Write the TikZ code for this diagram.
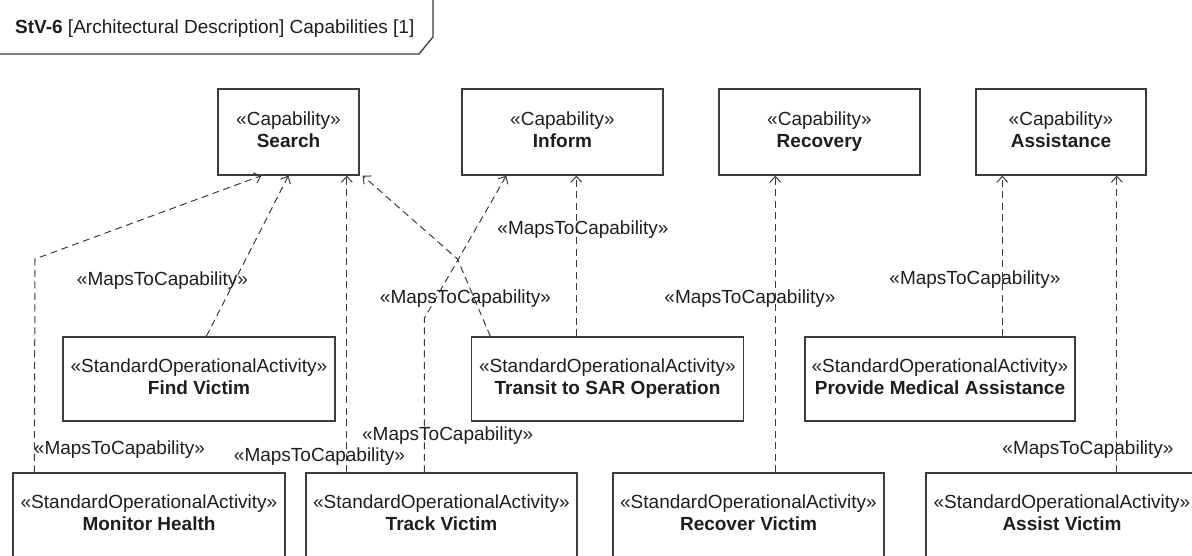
\documentclass[tikz,border=0pt]{standalone}
\usepackage{fontspec}
\setmainfont{Liberation Sans}
\usetikzlibrary{arrows.meta,positioning}
\definecolor{linegray}{RGB}{60,60,60}
\definecolor{textgray}{RGB}{30,30,30}
\tikzset{
  elem/.style={draw=linegray,line width=1.3pt,align=center,inner sep=0pt,
               font=\fontsize{19}{22}\selectfont,text=textgray},
  capability/.style={elem,minimum height=86pt},
  activity/.style={elem,minimum width=272pt,minimum height=84pt},
  maps/.style={draw=linegray,line width=1pt,dash pattern=on 7pt off 4.5pt,
               -{Straight Barb[length=6pt,width=11pt]}},
  maplabel/.style={font=\fontsize{19}{22}\selectfont,text=textgray,inner sep=0pt},
  frameline/.style={draw=linegray,line width=1.3pt},
}

\begin{document}
\begin{tikzpicture}[x=1pt,y=-1pt]
  \path[use as bounding box] (0,0) rectangle (1192,556);
  \node[anchor=base west,font=\fontsize{19}{22}\selectfont,text=textgray,inner sep=0pt] (title) at (15,34)
    {\textbf{StV-6} [Architectural Description] Capabilities [1]};
  \draw[frameline] (0,54) -- (419,54) -- (433,37) -- (433,0);

  \node[capability,minimum width=141pt] (search) at (288.5,132) {«Capability»\\\textbf{Search}\vphantom{y}};
  \node[capability,minimum width=201pt] (inform) at (562.5,132) {«Capability»\\\textbf{Inform}\vphantom{y}};
  \node[capability,minimum width=201pt] (recovery) at (819.5,132) {«Capability»\\\textbf{Recovery}\vphantom{y}};
  \node[capability,minimum width=170pt] (assistance) at (1061,132) {«Capability»\\\textbf{Assistance}\vphantom{y}};

  \node[activity] (findvictim) at (199,379) {«StandardOperationalActivity»\\\textbf{Find Victim}\vphantom{y}};
  \node[activity] (transit) at (607.5,379) {«StandardOperationalActivity»\\\textbf{Transit to SAR Operation}\vphantom{y}};
  \node[activity,minimum width=270pt] (provide) at (940,379) {«StandardOperationalActivity»\\\textbf{Provide Medical Assistance}\vphantom{y}};

  \node[activity] (monitor) at (149,515) {«StandardOperationalActivity»\\\textbf{Monitor Health}\vphantom{y}};
  \node[activity,minimum width=271pt] (track) at (441.5,515) {«StandardOperationalActivity»\\\textbf{Track Victim}\vphantom{y}};
  \node[activity,minimum width=271pt] (recover) at (748.5,515) {«StandardOperationalActivity»\\\textbf{Recover Victim}\vphantom{y}};
  \node[activity] (assist) at (1062,515) {«StandardOperationalActivity»\\\textbf{Assist Victim}\vphantom{y}};

  \coordinate (m1) at ([xshift=22pt]monitor.north west);
  \coordinate (m2) at (35,259);
  \coordinate (f1) at ([xshift=144pt]findvictim.north west);
  \coordinate (t1) at ([xshift=41.5pt]track.north west);
  \coordinate (t2) at ([xshift=119pt]track.north west);
  \coordinate (s1) at ([xshift=19.5pt]transit.north west);
  \coordinate (s2) at (457.5,259);
  \coordinate (s3) at ([xshift=105.5pt]transit.north west);
  \coordinate (r1) at ([xshift=163pt]recover.north west);
  \coordinate (p1) at ([xshift=198pt]provide.north west);
  \coordinate (a1) at ([xshift=191.5pt]assist.north west);

  \draw[maps] (m1) -- (m2) -- ([xshift=44pt]search.south west);
  \draw[maps] (f1) -- (search.south);
  \draw[maps] (t1) -- (t1 |- search.south);
  \draw[maps] (t2) -- ++(0,-154) -- ([xshift=45pt]inform.south west);
  \draw[maps] (s1) -- (s2) -- ([xshift=3pt]search.south east);
  \draw[maps] (s3) -- (s3 |- inform.south);
  \draw[maps] (r1) -- (r1 |- recovery.south);
  \draw[maps] (p1) -- (p1 |- assistance.south);
  \draw[maps] (a1) -- (a1 |- assistance.south);

  \node[maplabel] (lmonitor) at (119.5,450) {«MapsToCapability»};
  \node[maplabel] (lfind) at (162.5,281) {«MapsToCapability»};
  \node[maplabel] (ltracksearch) at (319.5,457) {«MapsToCapability»};
  \node[maplabel] (ltrackinform) at (447.7,436) {«MapsToCapability»};
  \node[maplabel] (ltransitsearch) at (465.5,299) {«MapsToCapability»};
  \node[maplabel] (ltransitinform) at (583,230) {«MapsToCapability»};
  \node[maplabel] (lrecover) at (750,299) {«MapsToCapability»};
  \node[maplabel] (lprovide) at (975,280) {«MapsToCapability»};
  \node[maplabel] (lassist) at (1088,450) {«MapsToCapability»};
\end{tikzpicture}
\end{document}
